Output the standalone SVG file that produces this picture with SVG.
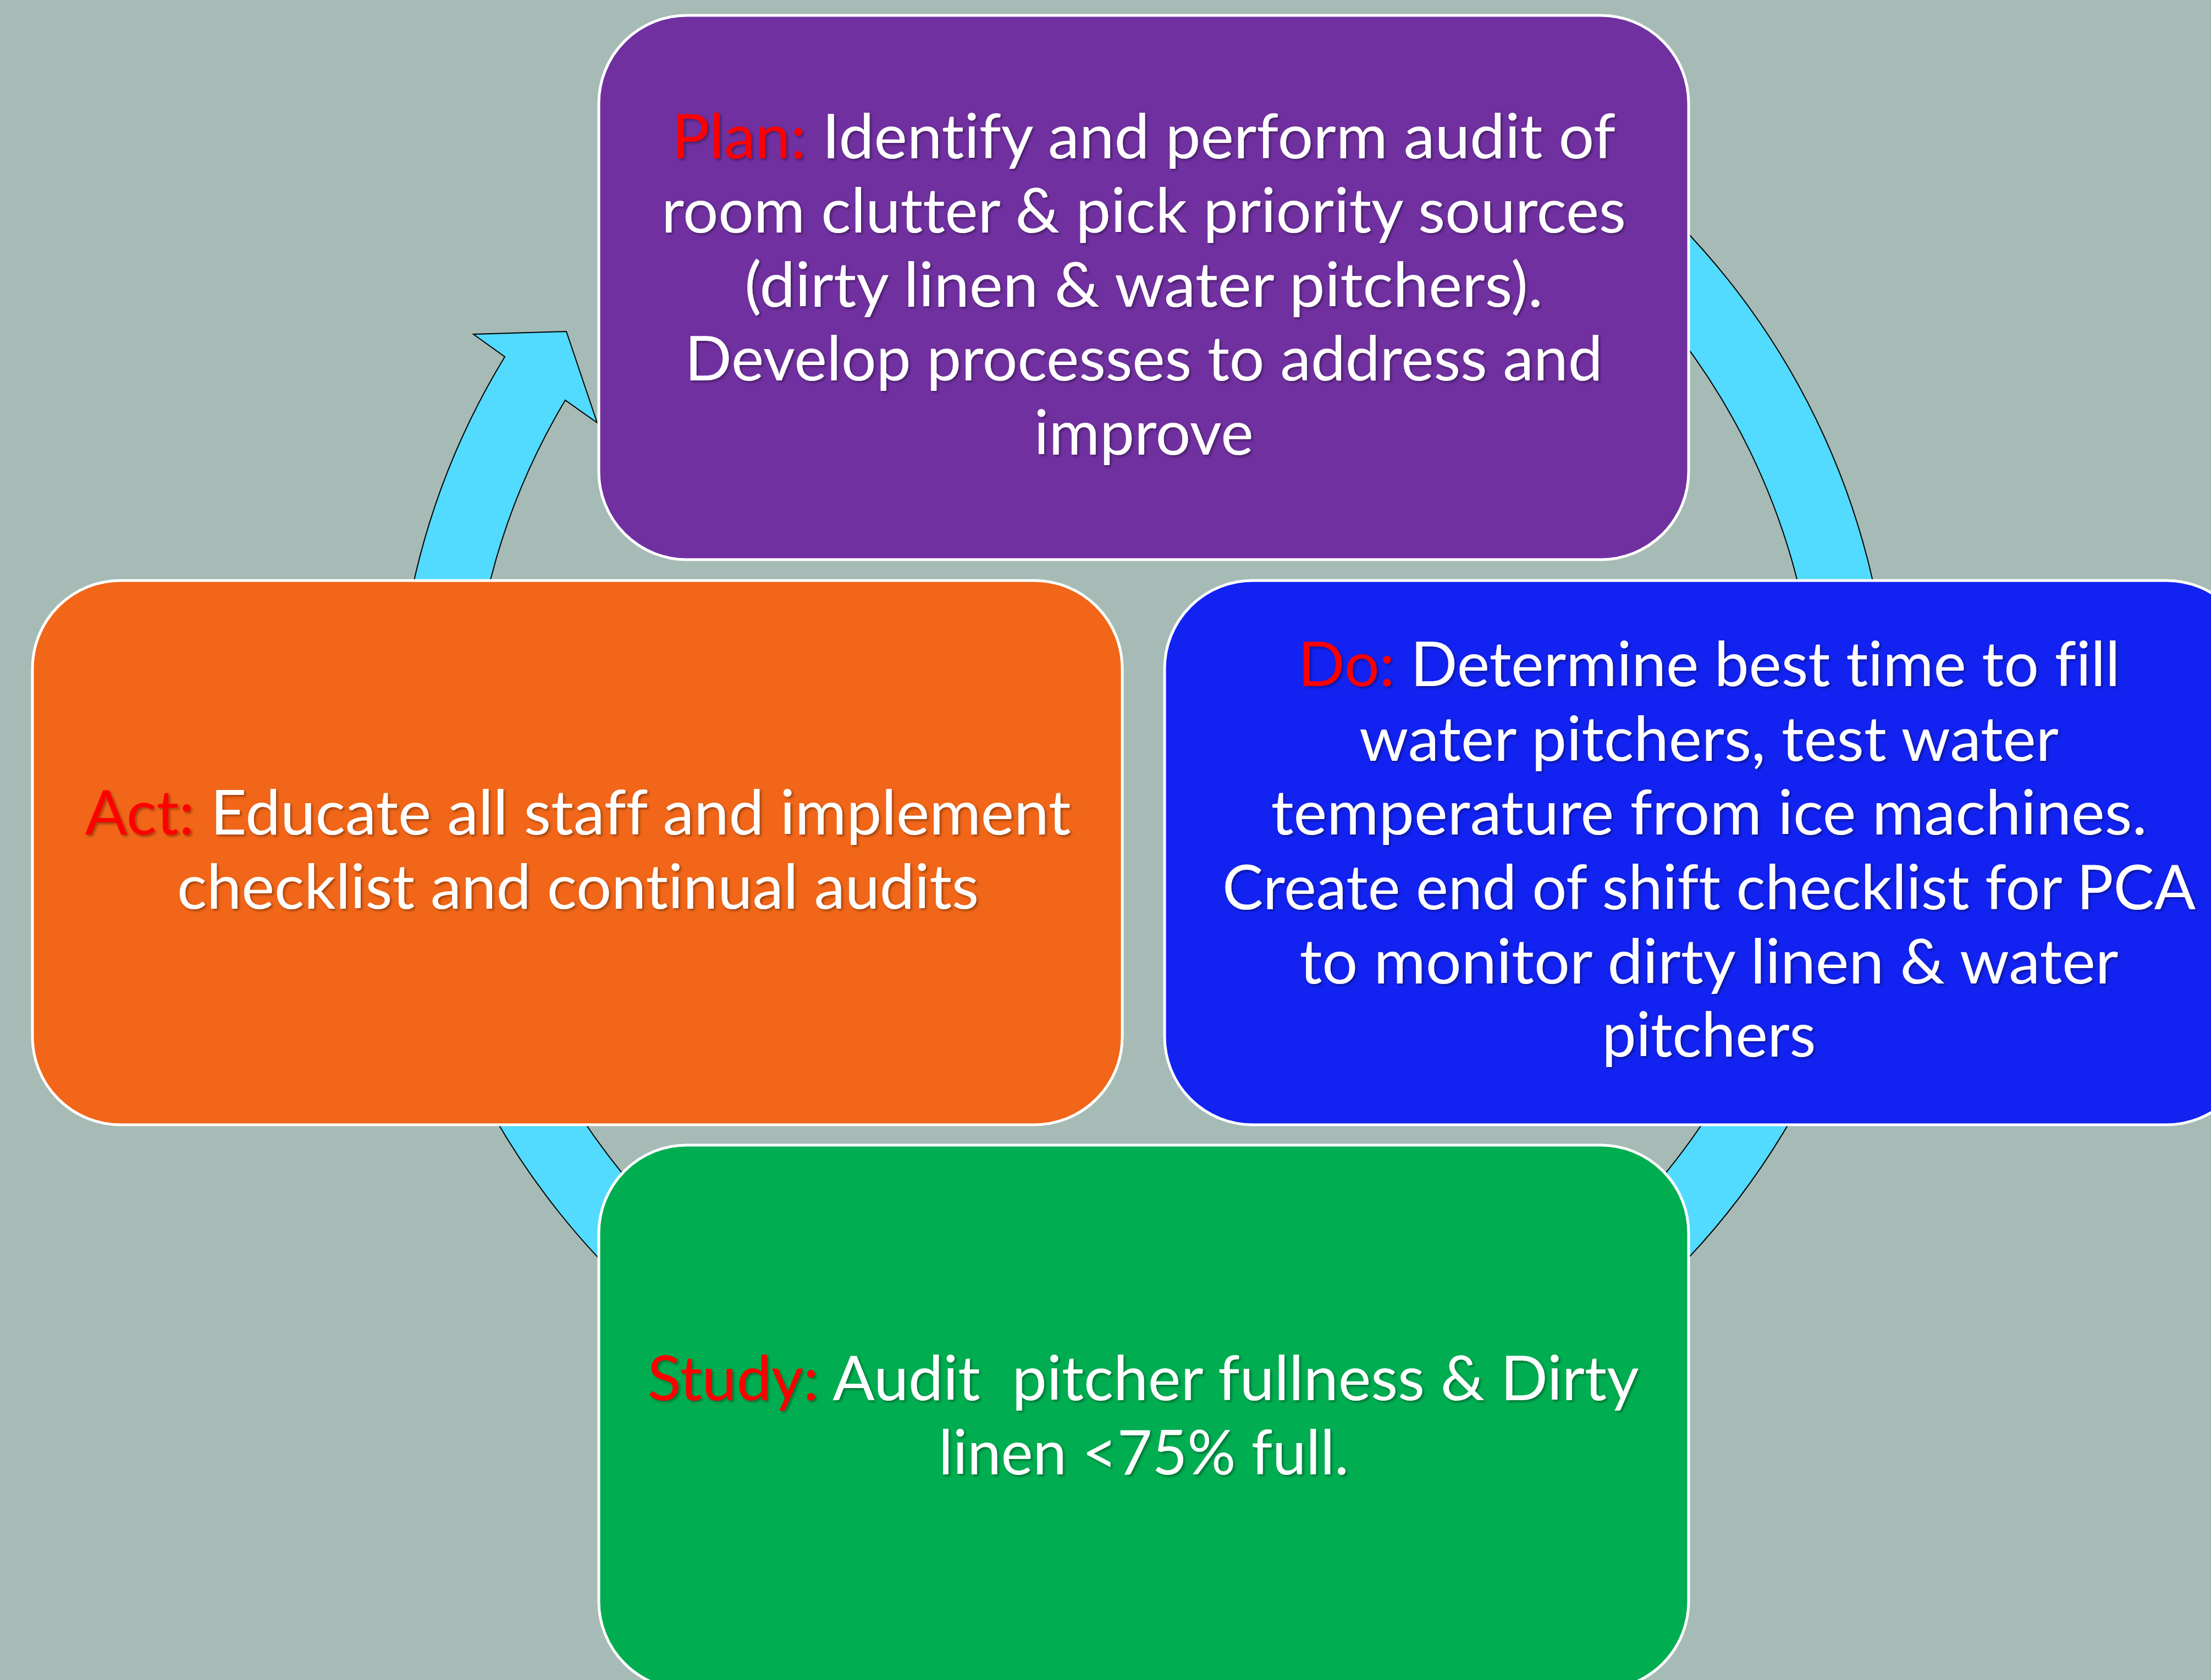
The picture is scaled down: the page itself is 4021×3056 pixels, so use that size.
<svg xmlns="http://www.w3.org/2000/svg" width="4021" height="3056" viewBox="0 0 4021 3056">
<defs>
<style>
.box{stroke:#FFFFFF;stroke-width:5}
.t{font-family:Lato,"Liberation Sans",sans-serif;font-size:112px;fill:#FFFFFF;text-anchor:middle;filter:url(#sh);font-variant-ligatures:none;font-feature-settings:"liga" 0,"clig" 0,"dlig" 0}
.k{fill:#FF0000}
.ring{fill:#52DAFF;stroke:#000000;stroke-width:2;stroke-linejoin:miter}
</style>
<filter id="sh" x="-5%" y="-20%" width="110%" height="140%">
<feDropShadow dx="3" dy="3" stdDeviation="2" flood-color="#000000" flood-opacity="0.35"/>
</filter>
</defs>
<rect x="0" y="0" width="4021" height="3056" fill="#A6BBB5"/>
<g id="connectors">
<path class="ring" d="M 2780 191 A 1360 1360 0 1 1 918 649 L 861 608 L 1030 603 L 1086 769 L 1028 728 A 1226 1226 0 1 0 2711 306 Z"/>
</g>
<g id="plan">
<rect class="box" x="1089" y="28" width="1982" height="990" rx="160" ry="160" fill="#7030A0"/>
<text class="t" x="2080" y="288" textLength="1716" lengthAdjust="spacingAndGlyphs"><tspan class="k">Plan:</tspan> Identify and perform audit of</text>
<text class="t" x="2080" y="423" textLength="1754" lengthAdjust="spacingAndGlyphs">room clutter &amp; pick priority sources</text>
<text class="t" x="2080" y="558" textLength="1452" lengthAdjust="spacingAndGlyphs">(dirty linen &amp; water pitchers).</text>
<text class="t" x="2080" y="692" textLength="1669" lengthAdjust="spacingAndGlyphs">Develop processes to address and</text>
<text class="t" x="2080" y="827" textLength="399" lengthAdjust="spacingAndGlyphs">improve</text>
</g>
<g id="do">
<rect class="box" x="2118" y="1056" width="1982" height="990" rx="160" ry="160" fill="#1222F0"/>
<text class="t" x="3108" y="1248" textLength="1495" lengthAdjust="spacingAndGlyphs"><tspan class="k">Do:</tspan> Determine best time to fill</text>
<text class="t" x="3108" y="1384" textLength="1272" lengthAdjust="spacingAndGlyphs">water pitchers, test water</text>
<text class="t" x="3108" y="1518" textLength="1593" lengthAdjust="spacingAndGlyphs">temperature from ice machines.</text>
<text class="t" x="3108" y="1654" textLength="1770" lengthAdjust="spacingAndGlyphs">Create end of shift checklist for PCA</text>
<text class="t" x="3108" y="1789" textLength="1489" lengthAdjust="spacingAndGlyphs">to monitor dirty linen &amp; water</text>
<text class="t" x="3108" y="1922" textLength="389" lengthAdjust="spacingAndGlyphs">pitchers</text>
</g>
<g id="act">
<rect class="box" x="59" y="1056" width="1982" height="990" rx="160" ry="160" fill="#F16618"/>
<text class="t" x="1051" y="1518" textLength="1793" lengthAdjust="spacingAndGlyphs"><tspan class="k">Act:</tspan> Educate all staff and implement</text>
<text class="t" x="1051" y="1653" textLength="1458" lengthAdjust="spacingAndGlyphs">checklist and continual audits</text>
</g>
<g id="study">
<rect class="box" x="1089" y="2083" width="1982" height="990" rx="160" ry="160" fill="#00AD50"/>
<text class="t" x="2079" y="2547" textLength="1803" lengthAdjust="spacingAndGlyphs" xml:space="preserve"><tspan class="k">Study:</tspan> Audit  pitcher fullness &amp; Dirty</text>
<text class="t" x="2080" y="2682" textLength="746" lengthAdjust="spacingAndGlyphs">linen &lt;75% full.</text>
</g>
</svg>
